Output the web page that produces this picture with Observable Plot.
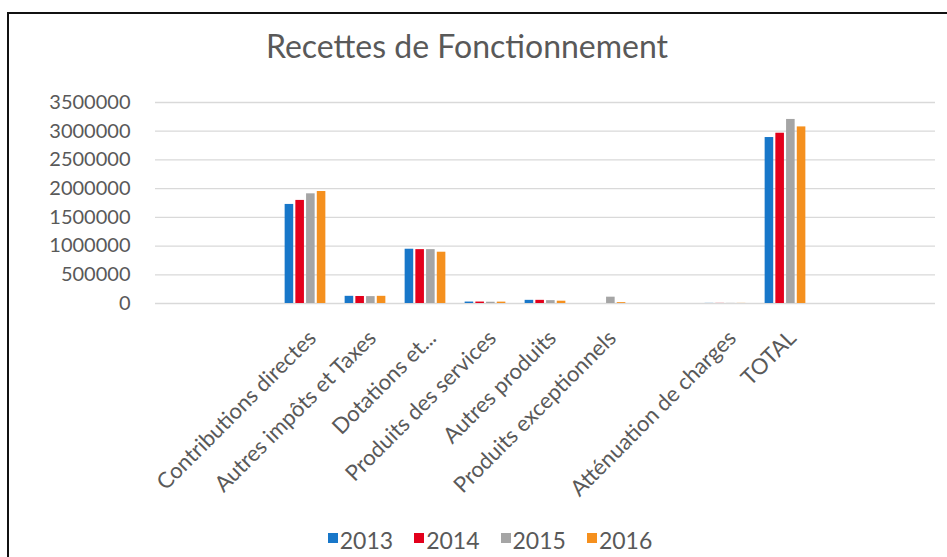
<!DOCTYPE html>
<html><head><meta charset="utf-8">
<script src="https://cdn.jsdelivr.net/npm/d3@7"></script>
<script src="https://cdn.jsdelivr.net/npm/@observablehq/plot@0.6"></script>
<style>
html,body{margin:0;padding:0;background:#fff;}
#wrap{position:relative;width:947px;height:557px;overflow:hidden;background:#fff;font-family:Lato,"Open Sans",sans-serif;color:#595959;}
#frame{position:absolute;left:7px;top:12px;width:1000px;height:600px;border-top:2px solid #111;border-left:2px solid #111;}
#title{position:absolute;left:0;width:934px;top:26px;text-align:center;font-size:32px;line-height:40px;white-space:nowrap;}
#chart{position:absolute;left:0;top:80px;}
#legend{position:absolute;top:526px;left:0;width:980px;display:flex;justify-content:center;font-size:23px;line-height:28px;}
.item{display:flex;align-items:center;margin:0 10.5px;}
.sw{width:10px;height:10px;margin-right:2px;margin-top:-4px;}
</style></head>
<body>
<div id="wrap">
  <div id="frame"></div>
  <div id="title">Recettes de Fonctionnement</div>
  <div id="chart"></div>
  <div id="legend"></div>
</div>
<script>
const years = ["2013", "2014", "2015", "2016"];
const categories = ["Contributions directes", "Autres impôts et Taxes", "Dotations et...", "Produits des services", "Autres produits", "Produits exceptionnels", "Atténuation de charges", "TOTAL"];
// slot order on the axis, blank slots included
const slots = ["_1", "_2", "Contributions directes", "Autres impôts et Taxes", "Dotations et...", "Produits des services", "Autres produits", "Produits exceptionnels", "_3", "Atténuation de charges", "TOTAL", "_4", "_5"];
const v2013 = [1725000, 125000, 945000, 25000, 55000, 0, 2000, 2890000];
const v2014 = [1795000, 122000, 938000, 25000, 55000, 0, 2000, 2965000];
const v2015 = [1910000, 120000, 938000, 22000, 50000, 110000, 2000, 3205000];
const v2016 = [1950000, 125000, 893000, 24000, 40000, 15000, 2000, 3075000];
const colors = ["#1877C9", "#E3001B", "#A5A5A5", "#F5901E"];
const yTicks = [0, 500000, 1000000, 1500000, 2000000, 2500000, 3000000, 3500000];

const series = [v2013, v2014, v2015, v2016];
const rows = categories.flatMap((c, i) => years.map((y, j) => ({cat: c, year: y, value: series[j][i]})));

const chart = Plot.plot({
  width: 947,
  height: 420,
  marginTop: 22,
  marginBottom: 197,
  marginLeft: 153,
  marginRight: 10,
  style: {fontFamily: "Lato, sans-serif", fontSize: "20px", color: "#595959", background: "transparent", overflow: "visible"},
  fx: {domain: slots, padding: 0, axis: null},
  x: {domain: years, paddingInner: 0.2, paddingOuter: 0.9, axis: null, round: false},
  y: {domain: [0, 3500000], ticks: 7, tickFormat: d3.format("d"), tickSize: 0, tickPadding: 25, label: null},
  color: {domain: years, range: colors},
  marks: [
    Plot.ruleY(yTicks, {stroke: "#d9d9d9", strokeWidth: 1.3}),
    Plot.barY(rows, {fx: "cat", x: "year", y: "value", fill: "year"}),
    Plot.text(slots, {fx: d => d, text: d => d.startsWith("_") ? "" : d, frameAnchor: "bottom", rotate: -45, textAnchor: "end", lineAnchor: "middle", dx: 7, dy: 31, fill: "#595959", fontSize: 22})
  ]
});
document.getElementById("chart").appendChild(chart);

const legend = document.getElementById("legend");
years.forEach((y, i) => {
  const item = document.createElement("div");
  item.className = "item";
  const sw = document.createElement("div");
  sw.className = "sw";
  sw.style.background = colors[i];
  const t = document.createElement("span");
  t.textContent = y;
  item.appendChild(sw);
  item.appendChild(t);
  legend.appendChild(item);
});
</script>
</body></html>
